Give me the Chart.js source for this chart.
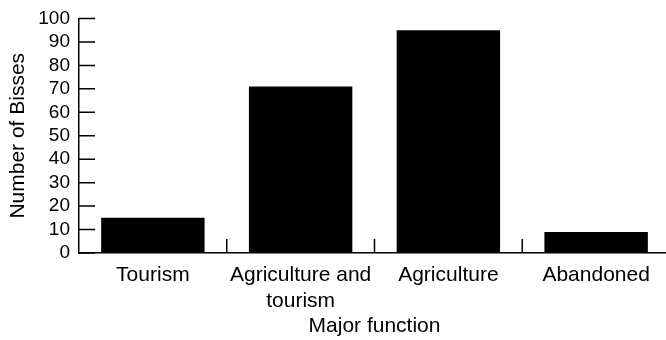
<!DOCTYPE html>
<html>
<head>
<meta charset="utf-8">
<script src="https://cdn.jsdelivr.net/npm/chart.js@4/dist/chart.umd.min.js"></script>
<style>
  html, body { margin: 0; padding: 0; background: #fff; overflow: hidden; }
  #wrap { width: 680px; height: 340px; }
</style>
</head>
<body>
<div id="wrap"><canvas id="chart" width="680" height="340"></canvas></div>
<script>
  "use strict";

  // ── 데이터 ─────────────────────────────────────────
  const categories = ["Tourism", ["Agriculture and", "tourism"], "Agriculture", "Abandoned"];
  const bisses = [15, 71, 95, 9];
  const yTicks = [0, 10, 20, 30, 40, 50, 60, 70, 80, 90, 100];

  const FONT = "'Liberation Sans', Arial, Helvetica, sans-serif";

  // 안쪽으로 향하는 짧은 눈금 (y축: 오른쪽, x축: 카테고리 경계에서 위쪽)
  const innerTicks = {
    id: "innerTicks",
    afterDatasetsDraw(chart) {
      const { ctx, scales } = chart;
      const x = scales.x;
      const y = scales.y;
      ctx.save();
      ctx.strokeStyle = "#000";
      ctx.lineWidth = 1.5;
      ctx.beginPath();
      y.ticks.forEach((t) => {
        const py = y.getPixelForValue(t.value);
        ctx.moveTo(x.left, py);
        ctx.lineTo(x.left + 16, py);
      });
      for (let i = 1; i < categories.length; i++) {
        const px = (x.getPixelForValue(i - 1) + x.getPixelForValue(i)) / 2;
        ctx.moveTo(px, y.bottom);
        ctx.lineTo(px, y.bottom - 14);
      }
      ctx.stroke();
      ctx.restore();
    },
  };

  new Chart(document.getElementById("chart"), {
    type: "bar",
    data: {
      labels: categories,
      datasets: [
        {
          data: bisses,
          backgroundColor: "#000",
          borderWidth: 0,
          barPercentage: 0.7,
          categoryPercentage: 1,
        },
      ],
    },
    options: {
      responsive: false,
      animation: false,
      layout: { padding: { left: 6, right: 10, top: 8, bottom: 0 } },
      plugins: {
        legend: { display: false },
        tooltip: { enabled: false },
      },
      scales: {
        x: {
          afterFit: (scale) => {
            scale.height = 87;
          },
          grid: { display: false, drawTicks: false },
          border: { display: true, color: "#000", width: 1.5 },
          ticks: {
            color: "#000",
            padding: 10,
            maxRotation: 0,
            autoSkip: false,
            font: { family: FONT, size: 21 },
          },
          title: {
            display: true,
            text: "Major function",
            color: "#000",
            padding: { top: 2, bottom: 1 },
            font: { family: FONT, size: 21 },
          },
        },
        y: {
          min: 0,
          max: 100,
          afterBuildTicks: (scale) => {
            scale.ticks = yTicks.map((v) => ({ value: v }));
          },
          afterFit: (scale) => {
            scale.width = 73;
          },
          grid: { display: false, drawTicks: false },
          border: { display: true, color: "#000", width: 1.5 },
          ticks: {
            color: "#000",
            padding: 9,
            autoSkip: false,
            font: { family: FONT, size: 19, lineHeight: 1 },
          },
          title: {
            display: true,
            text: "Number of Bisses",
            color: "#000",
            padding: { top: 0, bottom: 6 },
            font: { family: FONT, size: 21 },
          },
        },
      },
    },
    plugins: [innerTicks],
  });
</script>
</body>
</html>
